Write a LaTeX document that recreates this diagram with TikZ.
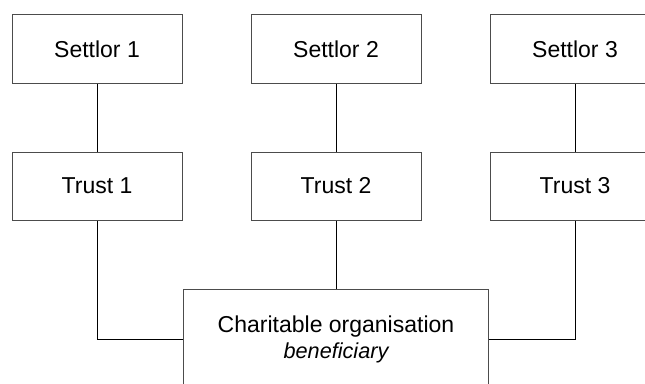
\documentclass[tikz,border=0pt]{standalone}
\usepackage{fontspec}
\setmainfont{Liberation Sans}
\usetikzlibrary{positioning}
\begin{document}
\begin{tikzpicture}[x=0.75pt, y=0.75pt, node distance=51pt,
    box/.style={draw=gray!60!black, line width=0.75pt, minimum width=127.5pt,
      minimum height=51pt, inner sep=0pt, font=\fontsize{17.25}{19.5}\selectfont},
    link/.style={draw=black, line width=0.75pt}]
  \useasboundingbox (0,0) rectangle (645,383);
  %
  \node[box] (settlor1) at (97,334) {Settlor 1};    % settlors
  \node[box, right=of settlor1] (settlor2) {Settlor 2};
  \node[box, right=of settlor2] (settlor3) {Settlor 3};
  %
  \node[box, below=of settlor1] (trust1) {Trust 1}; % trusts
  \node[box, below=of settlor2] (trust2) {Trust 2};
  \node[box, below=of settlor3] (trust3) {Trust 3};
  %
  \node[box, below=of trust2, minimum width=228.75pt, minimum height=75pt,
    align=center] (charity) {Charitable organisation\\
    {\fontsize{16.25}{19.5}\selectfont\itshape beneficiary}}; % beneficiary
  %
  \draw[link] (settlor1) -- (trust1);               % settlor to trust
  \draw[link] (settlor2) -- (trust2);
  \draw[link] (settlor3) -- (trust3);
  %
  \draw[link] (trust1.south) |- (charity.west);     % trust to charity
  \draw[link] (trust2.south) -- (charity.north);
  \draw[link] (trust3.south) |- (charity.east);
  %
\end{tikzpicture}
\end{document}
